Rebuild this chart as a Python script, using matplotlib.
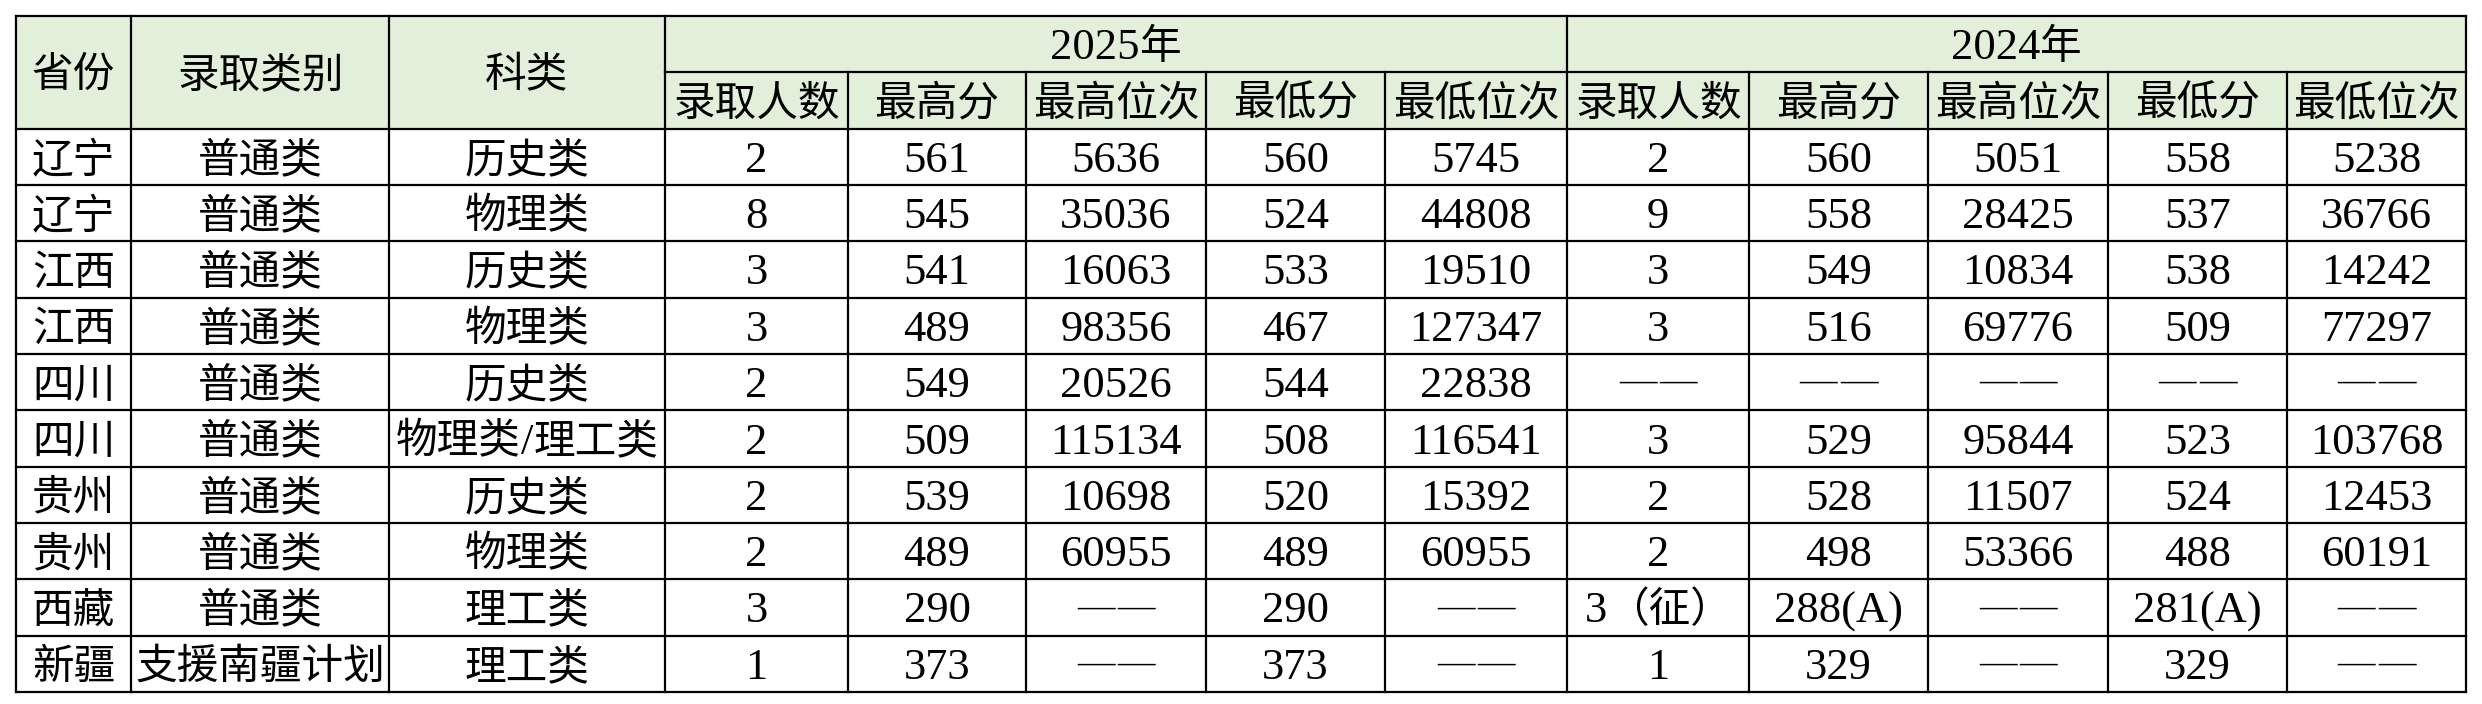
import matplotlib.pyplot as plt
from matplotlib.patches import Rectangle

plt.rcParams['font.family'] = ['Liberation Serif', 'Noto Sans CJK SC', 'DejaVu Sans']

DASH = '——'

# header texts
top_headers = ['省份', '录取类别', '科类']
years = ['2025年', '2024年']
sub_headers = ['录取人数', '最高分', '最高位次', '最低分', '最低位次']

# row data
provinces = ['辽宁', '辽宁', '江西', '江西', '四川', '四川', '贵州', '贵州', '西藏', '新疆']
categories = ['普通类', '普通类', '普通类', '普通类', '普通类', '普通类', '普通类', '普通类',
              '普通类', '支援南疆计划']
subjects = ['历史类', '物理类', '历史类', '物理类', '历史类', '物理类/理工类', '历史类', '物理类',
            '理工类', '理工类']

count_2025 = [2, 8, 3, 3, 2, 2, 2, 2, 3, 1]
max_2025 = [561, 545, 541, 489, 549, 509, 539, 489, 290, 373]
maxrank_2025 = [5636, 35036, 16063, 98356, 20526, 115134, 10698, 60955, DASH, DASH]
min_2025 = [560, 524, 533, 467, 544, 508, 520, 489, 290, 373]
minrank_2025 = [5745, 44808, 19510, 127347, 22838, 116541, 15392, 60955, DASH, DASH]

count_2024 = [2, 9, 3, 3, DASH, 3, 2, 2, '3（征）', 1]
max_2024 = [560, 558, 549, 516, DASH, 529, 528, 498, '288(A)', 329]
maxrank_2024 = [5051, 28425, 10834, 69776, DASH, 95844, 11507, 53366, DASH, DASH]
min_2024 = [558, 537, 538, 509, DASH, 523, 524, 488, '281(A)', 329]
minrank_2024 = [5238, 36766, 14242, 77297, DASH, 103768, 12453, 60191, DASH, DASH]

columns = [provinces, categories, subjects,
           count_2025, max_2025, maxrank_2025, min_2025, minrank_2025,
           count_2024, max_2024, maxrank_2024, min_2024, minrank_2024]

# layout (pixels)
W, H = 2482, 704
col_edges = [16, 131, 389, 665, 848, 1026, 1206, 1385, 1567, 1749, 1928, 2108, 2287, 2466]
top, bottom = 16, 692
n_rows = 2 + len(provinces)
row_h = (bottom - top) / n_rows
row_edges = [top + i * row_h for i in range(n_rows + 1)]

HEAD_BG = '#E2EFDA'
LW = 1.6
FS_CJK = 30     # chinese glyphs
FS_LAT = 32     # digits / latin
FS_DASH = 27    # em dashes, drawn one by one with a small gap
BASE_OFF = 15   # baseline below the cell centre
DASH_GAP = 3

fig = plt.figure(figsize=(W / 100, H / 100), dpi=100)
ax = fig.add_axes([0, 0, 1, 1])
ax.set_xlim(0, W)
ax.set_ylim(H, 0)
ax.axis('off')
renderer = fig.canvas.get_renderer()

# header background
ax.add_patch(Rectangle((col_edges[0], row_edges[0]), col_edges[-1] - col_edges[0],
                       row_edges[2] - row_edges[0], facecolor=HEAD_BG, edgecolor='none'))


def kind(ch):
    if ch == '—':
        return 'dash'
    return 'cjk' if ord(ch) >= 0x2E80 else 'lat'


def split_runs(s):
    runs = []
    for ch in s:
        k = kind(ch)
        if runs and runs[-1][1] == k and k != 'dash':
            runs[-1][0] += ch
        else:
            runs.append([ch, k])
    return runs


STYLE = {
    'cjk': dict(fontsize=FS_CJK, family=['Noto Sans CJK SC']),
    'lat': dict(fontsize=FS_LAT, family=['Liberation Serif', 'Noto Sans CJK SC']),
    'dash': dict(fontsize=FS_DASH, family=['Liberation Serif']),
}


def cell_text(x0, x1, y0, y1, s):
    # chinese and latin runs get their own font size, laid out on one baseline
    yb = (y0 + y1) / 2 + BASE_OFF
    parts = []
    for t, k in split_runs(str(s)):
        txt = ax.text(0, yb - (6 if k == 'dash' else 0), t, ha='left', va='baseline',
                      color='black', **STYLE[k])
        gap = DASH_GAP if k == 'dash' else 0
        parts.append((txt, txt.get_window_extent(renderer).width + gap))
    total = sum(w for _, w in parts)
    if parts[-1][0].get_text() == '—':
        total -= DASH_GAP
    x = (x0 + x1) / 2 - total / 2
    for p, w in parts:
        p.set_x(x)
        x += w


# merged header cells
for i, t in enumerate(top_headers):
    cell_text(col_edges[i], col_edges[i + 1], row_edges[0], row_edges[2], t)
for k, y in enumerate(years):
    c0 = 3 + 5 * k
    cell_text(col_edges[c0], col_edges[c0 + 5], row_edges[0], row_edges[1], y)
    for j, t in enumerate(sub_headers):
        cell_text(col_edges[c0 + j], col_edges[c0 + j + 1], row_edges[1], row_edges[2], t)

# body
for r in range(len(provinces)):
    for c, col in enumerate(columns):
        cell_text(col_edges[c], col_edges[c + 1], row_edges[r + 2], row_edges[r + 3], col[r])

# grid lines
kw = dict(color='black', lw=LW, solid_capstyle='projecting')
for i, y in enumerate(row_edges):
    if i == 1:
        ax.plot([col_edges[3], col_edges[-1]], [y, y], **kw)
    else:
        ax.plot([col_edges[0], col_edges[-1]], [y, y], **kw)
for j, x in enumerate(col_edges):
    if j in (0, 1, 2, 3, 8, 13):
        ax.plot([x, x], [row_edges[0], row_edges[-1]], **kw)
    else:
        ax.plot([x, x], [row_edges[1], row_edges[-1]], **kw)

fig.savefig('out.png', dpi=100, facecolor='white')
